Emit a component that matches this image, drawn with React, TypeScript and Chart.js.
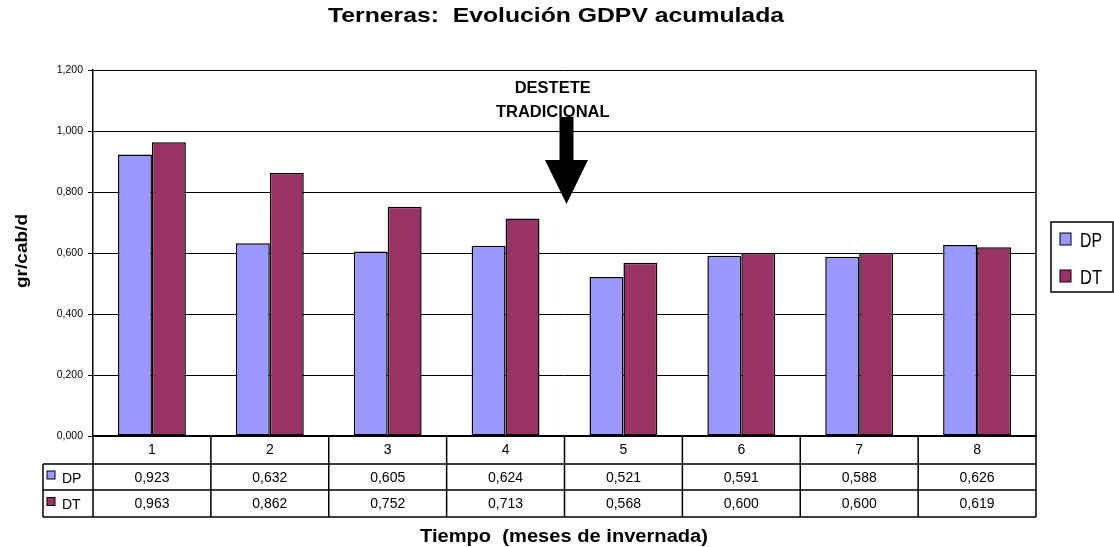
import React, { useEffect, useRef } from 'react';
import { Chart, registerables } from 'chart.js';

Chart.register(...registerables);

const categories = ['1', '2', '3', '4', '5', '6', '7', '8'];
const seriesNames = ['DP', 'DT'];
const dpValues = [0.923, 0.632, 0.605, 0.624, 0.521, 0.591, 0.588, 0.626];
const dtValues = [0.963, 0.862, 0.752, 0.713, 0.568, 0.6, 0.6, 0.619];
const seriesColors = ['#9999FF', '#993366'];
const yMin = 0;
const yMax = 1.2;
const yStep = 0.2;
const chartTitle = 'Terneras:  Evolución GDPV acumulada';
const xTitle = 'Tiempo  (meses de invernada)';
const yTitle = 'gr/cab/d';
const annotationLines = ['DESTETE', 'TRADICIONAL'];

const FONT = '"Liberation Sans", Arial, Helvetica, sans-serif';
const fmt = (v: number) => v.toFixed(3).replace('.', ',');

function stretchText(
  ctx: CanvasRenderingContext2D,
  text: string,
  x: number,
  y: number,
  font: string,
  width: number | null,
  align: CanvasTextAlign = 'center'
) {
  ctx.save();
  ctx.font = font;
  const w = ctx.measureText(text).width;
  const sx = width ? width / w : 1;
  ctx.translate(x, y);
  ctx.scale(sx, 1);
  ctx.textAlign = align;
  ctx.textBaseline = 'middle';
  ctx.fillStyle = '#000';
  ctx.fillText(text, 0, 0);
  ctx.restore();
}

const overlayPlugin = {
  id: 'overlay',
  afterDraw(chart: any) {
    const { ctx, chartArea: ca, scales } = chart;
    const xs = scales.x;
    const ys = scales.y;
    const n = categories.length;
    const colW = ca.width / n;

    ctx.save();
    ctx.strokeStyle = '#000';
    ctx.lineWidth = 1.5;

    // right border of plot area
    ctx.beginPath();
    ctx.moveTo(ca.right, ca.top);
    ctx.lineTo(ca.right, ca.bottom);
    ctx.stroke();

    // data table
    const legendLeft = 43;
    const r0 = ca.bottom;
    const r1 = r0 + 28;
    const r2 = r1 + 26;
    const r3 = r2 + 27;
    ctx.beginPath();
    ctx.moveTo(ca.left, r0);
    ctx.lineTo(ca.right, r0);
    [r1, r2, r3].forEach((yy) => {
      ctx.moveTo(legendLeft, yy);
      ctx.lineTo(ca.right, yy);
    });
    ctx.moveTo(legendLeft, r1);
    ctx.lineTo(legendLeft, r3);
    for (let i = 0; i <= n; i++) {
      const bx = ca.left + i * colW;
      ctx.moveTo(bx, r0);
      ctx.lineTo(bx, r3);
    }
    ctx.stroke();

    const numFont = `14px ${FONT}`;
    categories.forEach((c, i) => {
      const cx = xs.getPixelForTick(i);
      stretchText(ctx, c, cx, (r0 + r1) / 2, numFont, null);
      stretchText(ctx, fmt(dpValues[i]), cx, (r1 + r2) / 2 + 1, numFont, null);
      stretchText(ctx, fmt(dtValues[i]), cx, (r2 + r3) / 2 + 1, numFont, null);
    });
    const rowMid = [(r1 + r2) / 2, (r2 + r3) / 2];
    seriesNames.forEach((s, k) => {
      ctx.fillStyle = seriesColors[k];
      ctx.lineWidth = 1;
      ctx.fillRect(47, rowMid[k] - 6, 8, 8);
      ctx.strokeRect(47, rowMid[k] - 6, 8, 8);
      stretchText(ctx, s, 62, rowMid[k] + 2, `14px ${FONT}`, null, 'left');
    });

    // legend
    ctx.lineWidth = 1.5;
    ctx.strokeRect(1051, 222, 62, 70);
    const legY = [241, 278];
    seriesNames.forEach((s, k) => {
      ctx.fillStyle = seriesColors[k];
      ctx.lineWidth = 1;
      ctx.fillRect(1060, legY[k] - 8, 11, 12);
      ctx.strokeRect(1060, legY[k] - 8, 11, 12);
      stretchText(ctx, s, 1080, legY[k], `21px ${FONT}`, 22, 'left');
    });

    // titles
    stretchText(ctx, chartTitle, 556, 16, `bold 20px ${FONT}`, 456);
    stretchText(ctx, xTitle, 564, 537, `bold 18px ${FONT}`, 288);
    ctx.save();
    ctx.translate(22, (ca.top + ca.bottom) / 2 - 2);
    ctx.rotate(-Math.PI / 2);
    stretchText(ctx, yTitle, 0, 0, `bold 17px ${FONT}`, 74);
    ctx.restore();

    // annotation
    const ax = xs.getPixelForValue(3.5) + 2;
    const shaftTop = ys.getPixelForValue(1.046);
    const headTop = ys.getPixelForValue(0.905);
    const tip = ys.getPixelForValue(0.761);
    ctx.fillStyle = '#000';
    ctx.fillRect(ax - 7, shaftTop, 14, headTop - shaftTop + 1);
    ctx.beginPath();
    ctx.moveTo(ax - 21.5, headTop);
    ctx.lineTo(ax + 21.5, headTop);
    ctx.lineTo(ax, tip);
    ctx.closePath();
    ctx.fill();
    const tx = xs.getPixelForValue(3.4);
    stretchText(ctx, annotationLines[0], tx, ys.getPixelForValue(1.141), `bold 16.5px ${FONT}`, null);
    stretchText(ctx, annotationLines[1], tx, ys.getPixelForValue(1.062), `bold 16.5px ${FONT}`, null);

    ctx.restore();
  },
};

export default function App() {
  const canvasRef = useRef<HTMLCanvasElement | null>(null);

  useEffect(() => {
    if (!canvasRef.current) return;
    const chart = new Chart(canvasRef.current, {
      type: 'bar',
      data: {
        labels: categories,
        datasets: [
          {
            label: seriesNames[0],
            data: dpValues,
            backgroundColor: seriesColors[0],
            borderColor: '#000',
            borderWidth: 1.5,
            borderSkipped: false,
            barPercentage: 1,
            categoryPercentage: 0.576,
          },
          {
            label: seriesNames[1],
            data: dtValues,
            backgroundColor: seriesColors[1],
            borderColor: '#000',
            borderWidth: 1.5,
            borderSkipped: false,
            barPercentage: 1,
            categoryPercentage: 0.576,
          },
        ],
      },
      options: {
        responsive: false,
        animation: false,
        devicePixelRatio: 1,
        layout: { padding: { top: 70, right: 78, bottom: 111, left: 0 } },
        plugins: {
          legend: { display: false },
          title: { display: false },
          tooltip: { enabled: false },
        },
        scales: {
          x: {
            ticks: { display: false },
            grid: { display: false, drawTicks: false },
            border: { display: true, color: '#000', width: 1.5 },
            afterFit: (s: any) => {
              s.height = 0;
            },
          },
          y: {
            min: yMin,
            max: yMax,
            ticks: {
              stepSize: yStep,
              color: '#000',
              padding: 5,
              font: { size: 10.5, family: FONT },
              callback: (v: any) => fmt(Number(v)),
            },
            grid: { color: '#000', lineWidth: 1, tickLength: 5, drawTicks: true },
            border: { color: '#000', width: 1.5 },
            afterFit: (s: any) => {
              s.width = 93;
            },
          },
        },
      },
      plugins: [overlayPlugin],
    });
    return () => chart.destroy();
  }, []);

  return (
    <div style={{ position: 'absolute', left: 0, top: 0, width: 1114, height: 547, background: '#fff' }}>
      <canvas ref={canvasRef} width={1114} height={547} style={{ display: 'block' }} />
    </div>
  );
}
